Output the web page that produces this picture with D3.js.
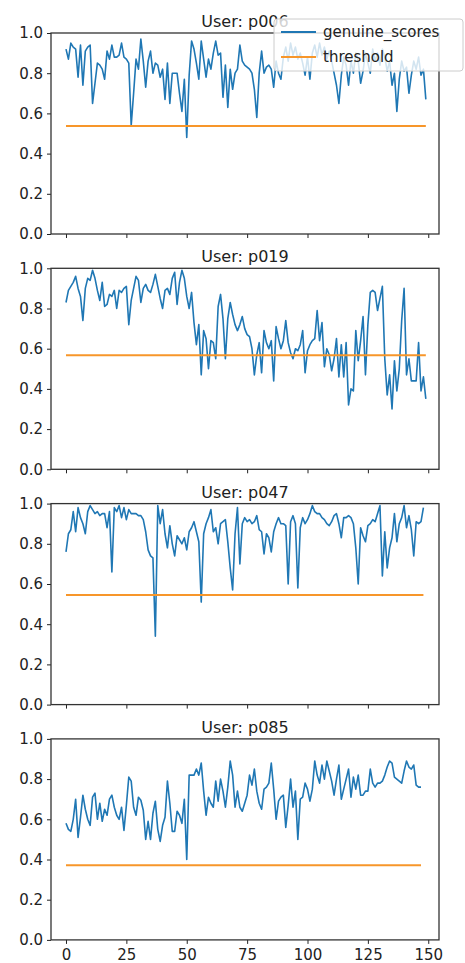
<!DOCTYPE html>
<html><head><meta charset="utf-8">
<script src="https://cdn.jsdelivr.net/npm/d3@7"></script>
<style>body{margin:0;background:#fff}svg{display:block}text{font-family:"DejaVu Sans",sans-serif}</style>
</head><body><svg id="c" width="465" height="963"></svg>
<script>
const users = ["p006", "p019", "p047", "p085"];
const p006 = [0.92,0.87,0.95,0.93,0.92,0.78,0.94,0.74,0.91,0.93,0.94,0.65,0.75,0.85,0.84,0.82,0.77,0.91,0.87,0.94,
0.88,0.88,0.89,0.95,0.88,0.87,0.85,0.54,0.70,0.87,0.82,0.97,0.86,0.73,0.86,0.91,0.80,0.85,0.84,0.78,
0.82,0.67,0.85,0.65,0.80,0.80,0.80,0.70,0.61,0.77,0.48,0.79,0.96,0.92,0.85,0.77,0.96,0.87,0.78,0.87,
0.82,0.90,0.96,0.89,0.90,0.68,0.84,0.63,0.82,0.72,0.80,0.82,0.94,0.86,0.84,0.83,0.82,0.80,0.72,0.58,
0.80,0.91,0.80,0.83,0.84,0.82,0.73,0.86,0.80,0.77,0.88,0.93,0.86,0.95,0.89,0.93,0.87,0.90,0.85,0.79,
0.88,0.77,0.90,0.94,0.88,0.95,0.89,0.93,0.87,0.91,0.86,0.80,0.74,0.65,0.79,0.88,0.84,0.74,0.86,0.80,
0.90,0.86,0.75,0.81,0.90,0.85,0.80,0.92,0.86,0.90,0.84,0.92,0.88,0.81,0.86,0.74,0.80,0.61,0.77,0.86,
0.81,0.83,0.70,0.79,0.86,0.82,0.88,0.79,0.82,0.67];
const p019 = [0.83,0.89,0.91,0.93,0.96,0.90,0.86,0.74,0.90,0.95,0.94,0.99,0.95,0.89,0.84,0.93,0.81,0.82,0.87,0.86,
0.89,0.80,0.89,0.88,0.90,0.91,0.72,0.84,0.90,0.96,0.94,0.83,0.90,0.92,0.89,0.88,0.92,0.97,0.91,0.85,
0.80,0.89,0.90,0.87,0.95,0.98,0.82,0.93,0.99,0.95,0.86,0.80,0.88,0.73,0.62,0.72,0.47,0.69,0.65,0.50,
0.64,0.63,0.55,0.81,0.87,0.75,0.55,0.75,0.83,0.77,0.72,0.69,0.72,0.76,0.70,0.67,0.66,0.60,0.47,0.57,
0.63,0.48,0.69,0.63,0.60,0.64,0.44,0.71,0.65,0.60,0.64,0.74,0.63,0.58,0.55,0.60,0.59,0.62,0.69,0.48,
0.59,0.62,0.64,0.65,0.79,0.64,0.73,0.51,0.60,0.57,0.49,0.55,0.65,0.46,0.62,0.46,0.63,0.32,0.40,0.39,
0.69,0.54,0.64,0.76,0.47,0.72,0.88,0.89,0.88,0.79,0.85,0.91,0.55,0.37,0.47,0.30,0.54,0.39,0.50,0.74,
0.90,0.47,0.55,0.44,0.44,0.44,0.63,0.39,0.46,0.35];
const p047 = [0.76,0.85,0.87,0.96,0.86,0.98,0.93,0.90,0.85,0.96,0.99,0.97,0.95,0.96,0.94,0.95,0.95,0.88,0.96,0.66,
0.98,0.96,0.99,0.93,0.98,0.92,0.97,0.95,0.95,0.95,0.94,0.94,0.92,0.86,0.77,0.74,0.73,0.34,0.99,0.90,
0.97,0.85,0.78,0.89,0.80,0.74,0.84,0.82,0.80,0.83,0.77,0.86,0.88,0.91,0.86,0.81,0.51,0.85,0.90,0.93,
0.97,0.86,0.88,0.80,0.90,0.91,0.92,0.81,0.68,0.57,0.85,0.98,0.70,0.90,0.93,0.91,0.92,0.90,0.91,0.94,
0.87,0.86,0.75,0.85,0.83,0.76,0.86,0.90,0.93,0.90,0.90,0.89,0.60,0.91,0.94,0.90,0.58,0.88,0.93,0.90,
0.92,0.95,0.99,0.96,0.95,0.95,0.93,0.92,0.90,0.89,0.91,0.94,0.95,0.90,0.83,0.93,0.93,0.94,0.93,0.90,
0.78,0.60,0.88,0.84,0.81,0.89,0.90,0.92,0.91,0.95,0.99,0.64,0.86,0.68,0.78,0.83,0.95,0.81,0.90,0.93,
0.99,0.88,0.94,0.87,0.74,0.91,0.90,0.91,0.98];
const p085 = [0.58,0.55,0.54,0.60,0.70,0.51,0.61,0.72,0.65,0.60,0.57,0.71,0.73,0.60,0.68,0.59,0.65,0.62,0.70,0.72,
0.66,0.62,0.60,0.66,0.545,0.67,0.81,0.79,0.66,0.62,0.71,0.695,0.645,0.50,0.59,0.50,0.63,0.69,0.55,0.49,
0.57,0.61,0.79,0.68,0.54,0.54,0.64,0.62,0.58,0.70,0.40,0.82,0.82,0.82,0.85,0.82,0.88,0.74,0.62,0.71,
0.68,0.66,0.79,0.69,0.80,0.74,0.66,0.76,0.89,0.82,0.66,0.74,0.66,0.64,0.68,0.72,0.82,0.77,0.85,0.74,
0.68,0.65,0.75,0.76,0.78,0.88,0.75,0.60,0.69,0.71,0.72,0.56,0.67,0.80,0.66,0.74,0.50,0.70,0.71,0.78,
0.75,0.69,0.75,0.89,0.82,0.78,0.87,0.80,0.89,0.84,0.79,0.72,0.80,0.87,0.70,0.75,0.80,0.85,0.71,0.81,
0.75,0.82,0.72,0.72,0.74,0.74,0.85,0.78,0.76,0.78,0.78,0.79,0.82,0.86,0.89,0.88,0.81,0.80,0.79,0.78,
0.84,0.89,0.86,0.85,0.87,0.77,0.76,0.76];
const thresholds = [0.537, 0.567, 0.545, 0.372];
const xTicks = [0, 25, 50, 75, 100, 125, 150];
const yTicks = [0.0, 0.2, 0.4, 0.6, 0.8, 1.0];
const legendLabels = ["genuine_scores", "threshold"];

const series = [p006, p019, p047, p085];
const blue = "#1f77b4", orange = "#f7962a";
const svg = d3.select("#c");
const L = 51, R = 439, top0 = 33, step = 235.3, ph = 201;
const x = d3.scaleLinear().domain([-6.21, 154.45]).range([L, R]);

series.forEach((vals, k) => {
  const top = top0 + step * k;
  const y = d3.scaleLinear().domain([0, 1]).range([top + ph, top]);
  const g = svg.append("g");
  g.append("text").attr("x", (L + R) / 2).attr("y", top - 6).attr("text-anchor", "middle")
    .style("font-size", "16px").attr("fill", "#222").text("User: " + users[k]);
  const ya = g.append("g").attr("transform", `translate(${L},0)`)
    .call(d3.axisLeft(y).tickValues(yTicks).tickFormat(d3.format(".1f")).tickSize(4).tickPadding(4));
  ya.select(".domain").remove();
  ya.selectAll("text").style("font-size", "15px").attr("fill", "#222");
  ya.selectAll("line").attr("stroke", "#222");
  const xa = g.append("g").attr("transform", `translate(0,${top + ph})`)
    .call(d3.axisBottom(x).tickValues(xTicks).tickSize(4).tickPadding(5));
  xa.select(".domain").remove();
  xa.selectAll("line").attr("stroke", "#222");
  if (k < 3) xa.selectAll("text").remove();
  else xa.selectAll("text").style("font-size", "15px").attr("fill", "#222");
  const line = d3.line().x((d, i) => x(i)).y(d => y(d));
  g.append("path").datum(vals).attr("d", line).attr("fill", "none")
    .attr("stroke", blue).attr("stroke-width", 1.6).attr("stroke-linejoin", "round");
  const th = vals.map(() => thresholds[k]);
  g.append("path").datum(th).attr("d", line).attr("fill", "none")
    .attr("stroke", orange).attr("stroke-width", 2);
  g.append("rect").attr("x", L).attr("y", top).attr("width", R - L).attr("height", ph)
    .attr("fill", "none").attr("stroke", "#333").attr("stroke-width", 1.3);
  if (k === 0) {
    const lg = g.append("g");
    lg.append("rect").attr("x", 274).attr("y", 19).attr("width", 189).attr("height", 52).attr("rx", 3)
      .attr("fill", "#fff").attr("fill-opacity", 0.8).attr("stroke", "#ccc");
    [blue, orange].forEach((c, j) => {
      const yy = 32 + j * 25;
      lg.append("line").attr("x1", 281).attr("x2", 316).attr("y1", yy).attr("y2", yy)
        .attr("stroke", c).attr("stroke-width", 2);
      lg.append("text").attr("x", 323).attr("y", yy + 5).style("font-size", "15px")
        .attr("fill", "#222").text(legendLabels[j]);
    });
  }
});
</script></body></html>
